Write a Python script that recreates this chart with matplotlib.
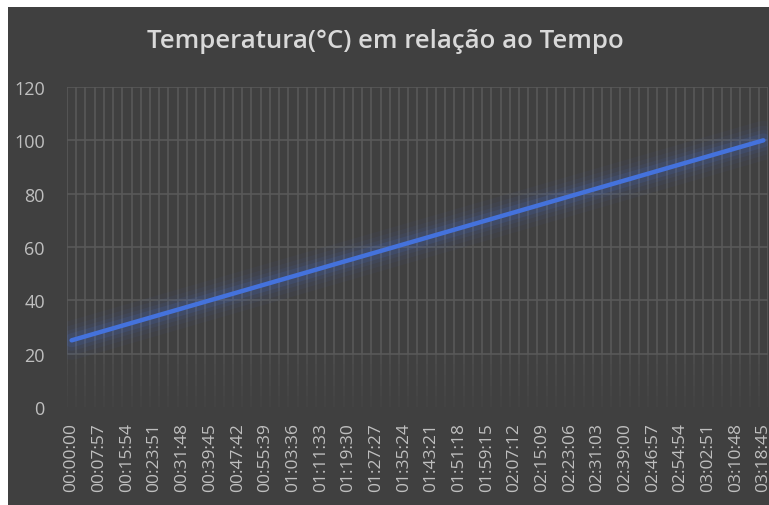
import matplotlib
matplotlib.use("Agg")
import matplotlib.pyplot as plt
from matplotlib.patches import Rectangle
import numpy as np

# temperature, one point per category
temperatura = [25, 26, 27, 28, 29, 30, 31, 32, 33, 34, 35, 36, 37, 38, 39, 40,
               41, 42, 43, 44, 45, 46, 47, 48, 49, 50, 51, 52, 53, 54, 55, 56,
               57, 58, 59, 60, 61, 62, 63, 64, 65, 66, 67, 68, 69, 70, 71, 72,
               73, 74, 75, 76, 77, 78, 79, 80, 81, 82, 83, 84, 85, 86, 87, 88,
               89, 90, 91, 92, 93, 94, 95, 96, 97, 98, 99, 100]

# every third category is labelled
rotulos = ["00:00:00", "00:07:57", "00:15:54", "00:23:51", "00:31:48",
           "00:39:45", "00:47:42", "00:55:39", "01:03:36", "01:11:33",
           "01:19:30", "01:27:27", "01:35:24", "01:43:21", "01:51:18",
           "01:59:15", "02:07:12", "02:15:09", "02:23:06", "02:31:03",
           "02:39:00", "02:46:57", "02:54:54", "03:02:51", "03:10:48",
           "03:18:45"]
passo_rotulo = 3

bg = "#404040"
grid_c = "#595959"
txt = "#bfbfbf"
azul = "#4472dc"

fig = plt.figure(figsize=(7.69, 5.06), dpi=100, facecolor="white")
fig.patches.append(Rectangle((8 / 769, 0), 1, 498 / 506, transform=fig.transFigure,
                             facecolor=bg, edgecolor="none", zorder=-10))

ax = fig.add_axes([67 / 769, 98 / 506, 701 / 769, 320 / 506])
ax.set_facecolor(bg)

x = np.arange(len(temperatura))
n = len(temperatura)

# glow around the line
for lw, a in [(28, 0.04), (21, 0.05), (15, 0.07), (10, 0.12)]:
    ax.plot(x, temperatura, color=azul, lw=lw, alpha=a, solid_capstyle="round", zorder=3)
ax.plot(x, temperatura, color=azul, lw=3.2, solid_capstyle="round", zorder=4)

ax.set_xlim(-0.5, n - 0.5)
ax.set_ylim(0, 120)
ax.set_yticks(range(0, 121, 20))

ax.set_xticks(x[::passo_rotulo])
ax.set_xticklabels(rotulos, rotation=90, family="Open Sans", fontsize=12.5, color=txt)
for lab in ax.get_yticklabels():
    lab.set_family("Open Sans")
    lab.set_fontsize(13)
    lab.set_color(txt)

ax.tick_params(axis="both", which="both", length=0)
ax.tick_params(axis="x", pad=11)
ax.tick_params(axis="y", pad=16)

# horizontal gridlines (none at 0)
ax.hlines(range(20, 121, 20), -0.5, n - 0.5, color=grid_c, lw=1.2, zorder=1)
# vertical gridlines, fading out below 20
bordas = np.arange(-0.5, n)
ax.vlines(bordas, 20, 120, color=grid_c, lw=1.2, zorder=1)
for i, (y0, y1) in enumerate([(16, 20), (12, 16), (8, 12), (4, 8), (0, 4)]):
    ax.vlines(bordas, y0, y1, color=grid_c, lw=1.2, alpha=0.55 - 0.1 * i, zorder=1)

for s in ax.spines.values():
    s.set_visible(False)

fig.text(385 / 769, 1 - 41 / 506, "Temperatura(°C) em relação ao Tempo",
         ha="center", va="center", family="Open Sans", fontsize=18.5,
         fontweight="semibold", color="#d9d9d9")

fig.savefig("out.png", dpi=100, facecolor="white")
